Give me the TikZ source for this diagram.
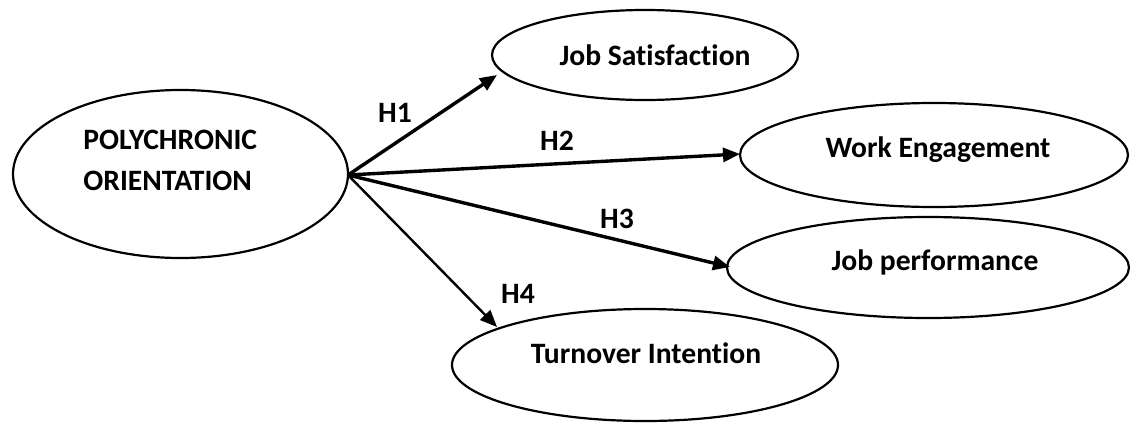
\documentclass[tikz,border=0pt]{standalone}
\usepackage{fontspec}
\setmainfont[Ligatures=NoCommon]{Carlito}
\usetikzlibrary{shapes.geometric,arrows.meta}
\begin{document}
\begin{tikzpicture}[x=0.5pt,y=-0.5pt,
  oval/.style={draw,ellipse,line width=1.1pt,inner sep=0pt},
  lbl/.style={font=\fontsize{14.8}{17.5}\selectfont\bfseries,inner sep=0pt},
  hyp/.style={font=\fontsize{14.8}{17}\selectfont\bfseries,inner sep=0pt,anchor=base},
  arr/.style={line width=1.7pt,-{Triangle[length=8.5pt,width=7pt]}},
  arrthin/.style={line width=1.2pt,-{Triangle[length=8.5pt,width=7pt]}}]
\useasboundingbox (0,0) rectangle (1135,423);
% ellipses
\node[oval,minimum width=167.5pt,minimum height=84pt] (po) at (180.5,174) {};
\node[oval,minimum width=153pt,minimum height=45pt] (js) at (645,55) {};
\node[oval,minimum width=194pt,minimum height=52pt] (we) at (934,155) {};
\node[oval,minimum width=201pt,minimum height=50.5pt] (jp) at (928,267.5) {};
\node[oval,minimum width=193pt,minimum height=56pt] (ti) at (645,365) {};
% texts
\node[lbl,anchor=base west] (po1) at (83,149) {POLYCHRONIC};
\node[lbl,anchor=base west] (po2) at (83,190) {ORIENTATION};
\node[lbl,anchor=base] (jst) at (655,65) {Job Satisfaction};
\node[lbl,anchor=base] (wet) at (938,157) {Work Engagement};
\node[lbl,anchor=base] (jpt) at (935,270) {Job performance};
\node[lbl,anchor=base] (tit) at (646,363) {Turnover Intention};
% connectors
\coordinate (o) at (348,175);
\coordinate (t1) at (497,75);
\coordinate (t2) at (740,154);
\coordinate (t3) at (730,267);
\coordinate (t4) at (497,327);
\draw[arr] (o) -- (t1);
\draw[arr] (o) -- (t2);
\draw[arr] (o) -- (t3);
\draw[arrthin] (o) -- (t4);
% hypothesis labels
\node[hyp] (h1) at (395,122) {H1};
\node[hyp] (h2) at (557,150) {H2};
\node[hyp] (h3) at (617,228) {H3};
\node[hyp] (h4) at (518,303) {H4};
\end{tikzpicture}
\end{document}
